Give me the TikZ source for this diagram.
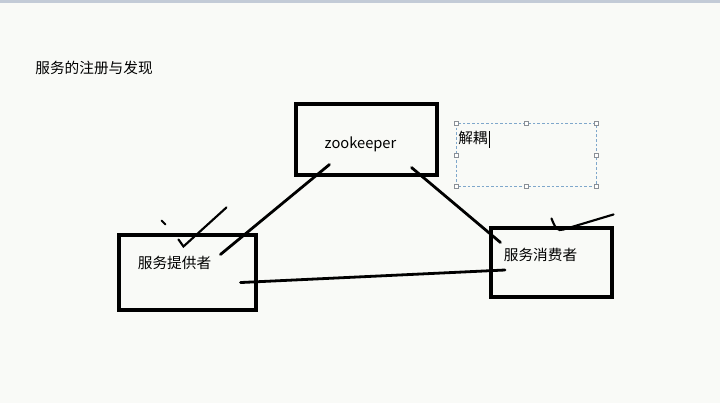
\documentclass[tikz,border=0pt]{standalone}
\usepackage{fontspec}
\usepackage{amsmath,amssymb}
\usetikzlibrary{calc}
\newfontfamily\cjk{Noto Sans CJK SC}
\definecolor{bgpaper}{HTML}{F9FAF7}
\definecolor{topbar}{HTML}{C3CBD7}
\definecolor{selblue}{HTML}{7FA7CB}
\definecolor{handlegray}{HTML}{8A8F96}
\tikzset{
  box/.style={draw, line width=2.3pt, minimum width=#1},
  txt/.style={font=\cjk\fontsize{11}{13}\selectfont, inner sep=0pt},
  pen/.style={line width=2.1pt, line cap=round}
}

\begin{document}
\begin{tikzpicture}[x=0.75pt, y=-0.75pt]

          \fill[bgpaper] (0,0) rectangle (720,403);
          \fill[topbar] (0,0) rectangle (720,3);
          \useasboundingbox (0,0) rectangle (720,403);

          \node[txt] (title) at (94,68) {服务的注册与发现};

          % boxes
          \node[box=105.75pt, minimum height=53.25pt] (zk) at (366.5,139.5) {};
          \node[box=102.75pt, minimum height=56.25pt] (provider) at (187.5,272.5) {};
          \node[box=90.75pt, minimum height=51.75pt] (consumer) at (551.5,262.5) {};

          \node[txt] (zktext) at ([shift={(-6,5)}]zk.center) {zookeeper};
          \node[txt] (providertext) at ([shift={(-13,-10)}]provider.center) {服务提供者};
          \node[txt] (consumertext) at ([shift={(-11,-8)}]consumer.center) {服务消费者};

          % selected text box
          \begin{scope}[shift={(456,123)}]
            \draw[selblue, dashed, line width=0.6pt, dash pattern=on 2pt off 1.5pt] (0,0) rectangle (140,63);
            \foreach \px/\py in {0/0,70/0,140/0,0/32,140/32,0/63,70/63,140/63}{
              \filldraw[draw=handlegray, fill=white, line width=0.5pt] (\px-2,\py-2) rectangle (\px+2,\py+2);
            }
            \node[txt, anchor=west] (decouple) at (2,15) {解耦};
            \draw[line width=0.8pt] ([xshift=1.5pt]decouple.north east) -- ([xshift=1.5pt, yshift=-2pt]decouple.south east);
          \end{scope}

          % hand drawn links
          \coordinate (pc end) at (505,270);
          \draw[pen] ($(zk.south west)+(35,-12)$) -- ($(provider.north west)+(103,21)$);
          \draw[pen] ($(zk.south east)+(-27,-9)$) -- ($(consumer.north west)+(11,16)$);
          \draw[pen] ($(provider.south east)+(-17,-29)$) -- (pc end);

          % check marks
          \draw[pen, line width=1.4pt] ($(provider.north west)+(44,-13)$) -- ($(provider.north west)+(48,-9)$);
          \draw[pen, line width=1.6pt] ($(provider.north west)+(61,6)$) -- ($(provider.north west)+(66,13)$) -- ($(provider.north west)+(109,-26)$);
          \draw[pen, line width=1.6pt] ($(consumer.north west)+(62,-8)$) .. controls ($(consumer.north west)+(66,2)$) and ($(consumer.north west)+(68,5)$) .. ($(consumer.north west)+(74,3)$) -- ($(consumer.north east)+(0,-12)$);

        \end{tikzpicture}
\end{document}
